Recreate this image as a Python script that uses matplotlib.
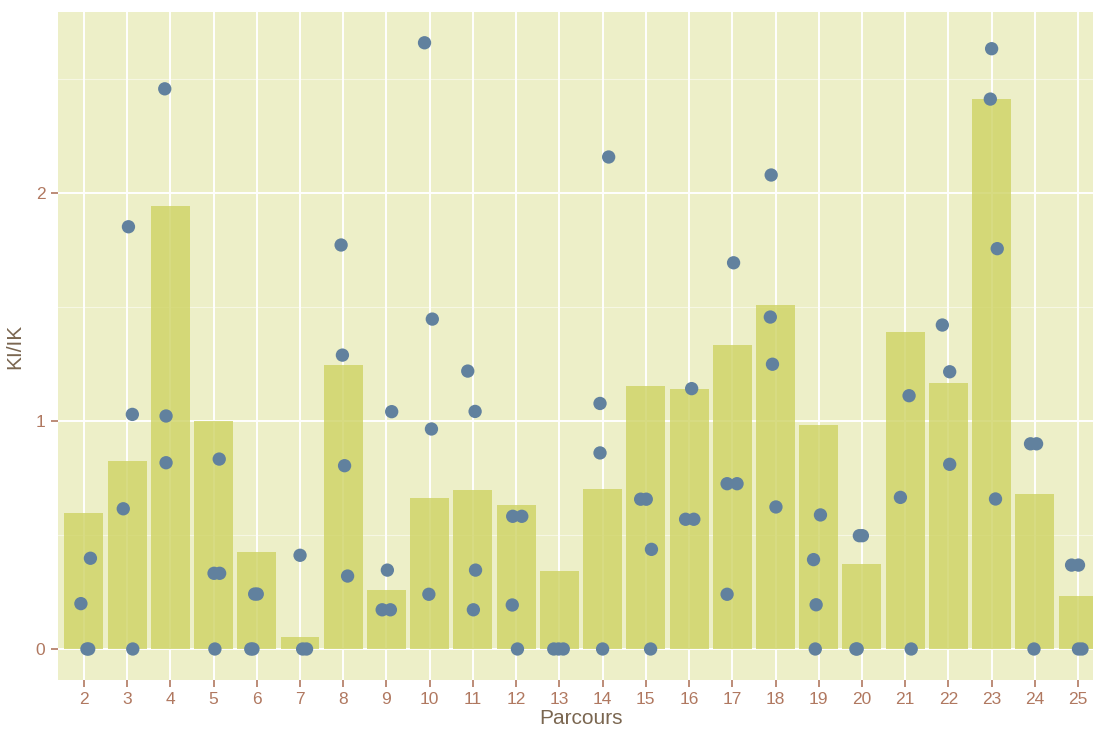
import matplotlib
matplotlib.use("Agg")
import matplotlib.pyplot as plt
import numpy as np

# ---- data ----
parcours = list(range(2, 26))
bar_values = [0.598, 0.825, 1.945, 1.0, 0.425, 0.051, 1.247, 0.259, 0.664, 0.696,
              0.632, 0.342, 0.700, 1.154, 1.140, 1.333, 1.509, 0.982, 0.374, 1.390,
              1.167, 2.414, 0.678, 0.231]

# individual observations per parcours (value) and the horizontal jitter seen in the picture
point_values = {
    2: [0.199, 0.398, 0.0, 0.0],
    3: [0.615, 1.029, 1.852, 0.0],
    4: [2.457, 1.022, 0.817],
    5: [0.833, 0.332, 0.332, 0.0],
    6: [0.241, 0.241, 0.0, 0.0],
    7: [0.411, 0.0, 0.0],
    8: [1.772, 1.289, 0.804, 0.320],
    9: [1.041, 0.346, 0.172, 0.172],
    10: [2.659, 1.447, 0.965, 0.240],
    11: [1.219, 1.042, 0.346, 0.172],
    12: [0.582, 0.582, 0.193, 0.0],
    13: [0.0, 0.0, 0.0],
    14: [2.158, 1.077, 0.860, 0.0],
    15: [0.657, 0.657, 0.437, 0.0],
    16: [1.142, 0.569, 0.569],
    17: [1.694, 0.725, 0.725, 0.240],
    18: [2.079, 1.456, 1.249, 0.623],
    19: [0.588, 0.392, 0.194, 0.0],
    20: [0.497, 0.497, 0.0, 0.0],
    21: [1.111, 0.665, 0.0],
    22: [1.421, 1.216, 0.810],
    23: [2.633, 2.412, 1.756, 0.658],
    24: [0.900, 0.900, 0.0],
    25: [0.368, 0.368, 0.0, 0.0],
}
point_jitter = {
    2: [-0.07, 0.15, 0.07, 0.11],
    3: [-0.09, 0.12, 0.03, 0.13],
    4: [-0.13, -0.10, -0.10],
    5: [0.13, 0.01, 0.14, 0.03],
    6: [-0.05, 0.01, -0.14, -0.09],
    7: [0.0, 0.06, 0.15],
    8: [-0.05, -0.02, 0.03, 0.10],
    9: [0.12, 0.02, -0.10, 0.09],
    10: [-0.12, 0.06, 0.04, -0.02],
    11: [-0.12, 0.05, 0.06, 0.01],
    12: [-0.08, 0.13, -0.09, 0.03],
    13: [-0.13, -0.02, 0.09],
    14: [0.14, -0.06, -0.06, 0.0],
    15: [-0.12, 0.01, 0.13, 0.11],
    16: [0.06, -0.08, 0.11],
    17: [0.03, -0.12, 0.11, -0.12],
    18: [-0.10, -0.12, -0.07, 0.01],
    19: [0.04, -0.12, -0.06, -0.08],
    20: [-0.06, 0.01, -0.14, -0.11],
    21: [0.09, -0.11, 0.14],
    22: [-0.14, 0.03, 0.03],
    23: [0.0, -0.03, 0.13, 0.09],
    24: [-0.10, 0.04, -0.02],
    25: [-0.15, 0.01, 0.01, 0.09],
}
y_ticks = [0, 1, 2]
x_label = "Parcours"
y_label = "KI/IK"

# ---- styling ----
bg = "#EDEFC8"
bar_color = "#CED363"
pt_color = "#61819E"
tick_color = "#B07860"
title_color = "#7A6650"

plt.rcParams['font.family'] = ['Liberation Sans', 'DejaVu Sans']

fig = plt.figure(figsize=(10.93, 7.29), dpi=100)
ax = fig.add_axes([58 / 1093, 49 / 729, (1104 - 58) / 1093, (680 - 12) / 729])
ax.set_facecolor(bg)

ax.bar(parcours, bar_values, width=0.9, color=bar_color, alpha=0.8, zorder=2, linewidth=0)

xs, ys = [], []
for p in parcours:
    for v, j in zip(point_values[p], point_jitter[p]):
        xs.append(p + j)
        ys.append(v)
ax.scatter(xs, ys, s=92, color=pt_color, edgecolors='none', zorder=3)

ax.set_xlim(1.4, 25.6)
ax.set_ylim(-0.136, 2.794)
ax.set_xticks(parcours)
ax.set_xticklabels([str(p) for p in parcours])
ax.set_yticks(y_ticks)
ax.set_yticks([0.5, 1.5, 2.5], minor=True)

ax.grid(which='major', color='white', linewidth=1.4, zorder=1)
ax.grid(which='minor', axis='y', color='white', linewidth=0.8, alpha=0.5, zorder=1)
ax.set_axisbelow(True)

for s in ax.spines.values():
    s.set_visible(False)

ax.tick_params(axis='both', which='major', colors=tick_color, labelsize=12.5,
               length=5, width=1.2, pad=4)
ax.tick_params(axis='both', which='minor', length=0)

ax.set_xlabel(x_label, fontsize=15, color=title_color, labelpad=1)
ax.set_ylabel(y_label, fontsize=15, color=title_color, labelpad=8)

fig.savefig("out.png", dpi=100, facecolor='white')
